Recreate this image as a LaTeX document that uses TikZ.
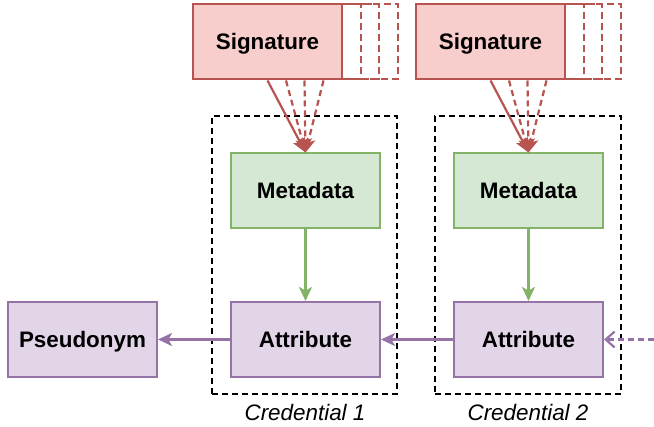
\documentclass[tikz,border=0pt]{standalone}
\usepackage{fontspec}
\setmainfont{Liberation Sans}
\usetikzlibrary{arrows.meta}
\definecolor{rfill}{HTML}{F8CECC}
\definecolor{rline}{HTML}{B85450}
\definecolor{gfill}{HTML}{D5E8D4}
\definecolor{gline}{HTML}{82B366}
\definecolor{pfill}{HTML}{E1D5E7}
\definecolor{pline}{HTML}{9673A6}
\tikzset{
  box/.style={draw, line width=1pt, minimum width=74.5pt, minimum height=37.5pt, inner sep=0pt, text height=8pt, text depth=0pt, font=\fontsize{11.2}{13}\selectfont\bfseries},
  sigbox/.style={box, fill=rfill, draw=rline},
  sigcopy/.style={draw=rline, line width=1pt, dash pattern=on 3.5pt off 2pt, minimum width=74.5pt, minimum height=37.5pt, inner sep=0pt},
  metabox/.style={box, fill=gfill, draw=gline},
  attrbox/.style={box, fill=pfill, draw=pline},
  credbox/.style={draw=black, line width=0.9pt, dash pattern=on 3pt off 2pt},
  credlabel/.style={font=\fontsize{11.2}{13}\selectfont\itshape},
  tipb/.style={-{Stealth[length=7pt,width=6.5pt,inset=1.8pt]}},
  sigarrow/.style={draw=rline, line width=1.1pt, tipb},
  sigdarrow/.style={sigarrow, dash pattern=on 3pt off 2pt},
  garrow/.style={draw=gline, line width=1.1pt, tipb},
  parrow/.style={draw=pline, line width=1.1pt, tipb},
  pdarrow/.style={draw=pline, line width=1.1pt, dash pattern=on 3pt off 2pt, -{Straight Barb[length=4.5pt,width=8pt]}},
}
\begin{document}
\begin{tikzpicture}[x=0.5pt,y=-0.5pt]
\useasboundingbox (0,0) rectangle (654,427);
% credential dashed boxes
\node[credbox, minimum width=92.5pt, minimum height=139pt, inner sep=0pt] (cred1) at (304.5,255) {};
\node[credbox, minimum width=93pt, minimum height=139pt, inner sep=0pt] (cred2) at (528,255) {};
\node[credlabel] (cl1) at (305,412) {Credential 1};
\node[credlabel] (cl2) at (528,412) {Credential 2};
% signature copies
\foreach \i/\d in {1/18.5,2/37,3/56}{
  \node[sigcopy] (s1c\i) at (267.5+\d,42) {};
  \node[sigcopy] (s2c\i) at (490.5+\d,42) {};
}
\node[sigbox] (sig1) at (267.5,42) {Signature};
\node[sigbox] (sig2) at (490.5,42) {Signature};
% metadata and attributes
\node[metabox] (meta1) at (305.5,191) {Metadata};
\node[metabox] (meta2) at (528.5,191) {Metadata};
\node[attrbox] (attr1) at (305.5,339.5) {Attribute};
\node[attrbox] (attr2) at (528.5,339.5) {Attribute};
\node[attrbox] (pseu) at (82.5,339.5) {Pseudonym};
\coordinate (inc) at (654,339.5);
% arrows
\draw[sigarrow] (sig1.south) -- (meta1.north);
\draw[sigarrow] (sig2.south) -- (meta2.north);
\foreach \i in {1,2,3}{
  \draw[sigdarrow] (s1c\i.south) -- (meta1.north);
  \draw[sigdarrow] (s2c\i.south) -- (meta2.north);
}
\draw[garrow] (meta1.south) -- (attr1.north);
\draw[garrow] (meta2.south) -- (attr2.north);
\draw[parrow] (attr1.west) -- (pseu.east);
\draw[parrow] (attr2.west) -- (attr1.east);
\draw[pdarrow] (inc) -- (attr2.east);
\end{tikzpicture}
\end{document}
